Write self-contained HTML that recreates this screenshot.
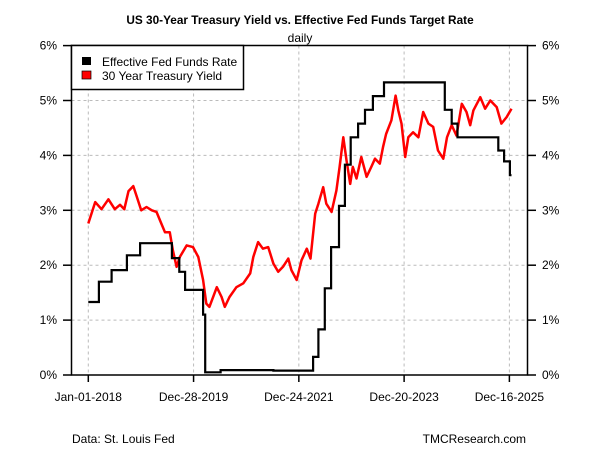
<!DOCTYPE html>
<html><head><meta charset="utf-8"><style>
body{margin:0;background:#fff;}
svg text{font-family:"Liberation Sans",Arial,sans-serif;fill:#000;}
</style></head><body>
<svg width="600" height="450" xmlns="http://www.w3.org/2000/svg">
<rect width="600" height="450" fill="#fff"/>
<g id="grid"></g>
<g id="series"></g>
<rect x="71.5" y="45.5" width="456" height="329.5" fill="none" stroke="#000" stroke-width="1.5"/>
<g id="axes"></g>
<text x="300" y="24" text-anchor="middle" font-size="11.8" font-weight="bold">US 30-Year Treasury Yield vs. Effective Fed Funds Target Rate</text>
<text x="300" y="42" text-anchor="middle" font-size="12">daily</text>
<g>
<rect x="71.5" y="45.5" width="172" height="44" fill="#fff" stroke="#000" stroke-width="1.5"/>
<rect x="82" y="57" width="9" height="8" fill="#000"/>
<text x="102" y="66" font-size="12">Effective Fed Funds Rate</text>
<rect x="82" y="71" width="9" height="8" fill="#f00" stroke="#000" stroke-width="0.7"/>
<text x="102" y="80" font-size="12">30 Year Treasury Yield</text>
</g>
<text x="72" y="443" font-size="12">Data: St. Louis Fed</text>
<text x="526" y="443" text-anchor="end" font-size="12">TMCResearch.com</text>
</svg>
<script>
const yTicks=[0,1,2,3,4,5,6];
const xTickYears=[2018.0,2019.99,2021.98,2023.97,2025.96];
const xTickLabels=["Jan-01-2018","Dec-28-2019","Dec-24-2021","Dec-20-2023","Dec-16-2025"];
const tsyT=[2018.0,2018.13,2018.25,2018.38,2018.5,2018.6,2018.68,2018.76,2018.85,2018.91,2019.0,2019.1,2019.2,2019.29,2019.38,2019.45,2019.54,2019.6,2019.67,2019.73,2019.86,2019.98,2020.08,2020.17,2020.23,2020.29,2020.43,2020.52,2020.58,2020.67,2020.8,2020.93,2021.06,2021.12,2021.21,2021.3,2021.4,2021.5,2021.59,2021.68,2021.78,2021.84,2021.94,2022.03,2022.13,2022.2,2022.29,2022.35,2022.44,2022.5,2022.6,2022.69,2022.75,2022.82,2022.88,2022.95,2023.0,2023.07,2023.16,2023.26,2023.35,2023.42,2023.51,2023.57,2023.63,2023.73,2023.81,2023.86,2023.92,2023.99,2024.05,2024.14,2024.24,2024.33,2024.43,2024.52,2024.61,2024.71,2024.78,2024.87,2024.96,2025.06,2025.15,2025.22,2025.28,2025.41,2025.5,2025.6,2025.72,2025.81,2025.91,2026.0];
const tsyV=[2.76,3.15,3.02,3.2,3.02,3.1,3.02,3.35,3.44,3.27,3.0,3.06,3.0,2.97,2.76,2.6,2.6,2.27,1.97,2.15,2.36,2.33,2.15,1.73,1.3,1.24,1.6,1.42,1.24,1.42,1.6,1.67,1.85,2.15,2.42,2.3,2.33,2.03,1.88,1.97,2.12,1.91,1.73,2.09,2.3,2.12,2.94,3.12,3.42,3.12,2.97,3.36,3.79,4.33,3.91,3.48,3.79,3.58,3.97,3.61,3.79,3.94,3.85,4.15,4.39,4.64,5.09,4.82,4.58,3.97,4.33,4.42,4.33,4.79,4.58,4.52,4.09,3.94,4.33,4.55,4.36,4.94,4.79,4.55,4.82,5.06,4.85,5.0,4.88,4.58,4.7,4.85];
const fedT=[2018.0,2018.2,2018.44,2018.73,2018.98,2019.58,2019.72,2019.83,2020.17,2020.21,2020.5,2021.5,2022.25,2022.35,2022.47,2022.59,2022.74,2022.85,2022.96,2023.1,2023.23,2023.38,2023.59,2024.74,2024.87,2024.98,2025.75,2025.86,2025.97,2026.0];
const fedV=[1.33,1.7,1.91,2.18,2.4,2.13,1.88,1.55,1.1,0.05,0.09,0.08,0.33,0.83,1.58,2.33,3.08,3.83,4.33,4.58,4.83,5.08,5.33,4.83,4.58,4.33,4.09,3.89,3.64,3.64];
const NS="http://www.w3.org/2000/svg";
function xs(t){return 88.3+(t-2018)*52.9;}
function ys(v){return 375-v*54.9;}
function mk(tag,attrs,parent){const e=document.createElementNS(NS,tag);for(const k in attrs)e.setAttribute(k,attrs[k]);parent.appendChild(e);return e;}
const grid=document.getElementById('grid'),axes=document.getElementById('axes'),series=document.getElementById('series');
yTicks.forEach(v=>{const y=ys(v);
 if(v>0&&v<6){const g=mk('line',{x1:71.5,x2:527.5,y1:y,y2:y,stroke:'#bbb','stroke-dasharray':'3,3'},grid);
 
 }
 const t1=mk('line',{x1:63,x2:71.5,y1:y,y2:y,stroke:'#000','stroke-width':1.5},axes);
 
 
 const t2=mk('line',{x1:527.5,x2:536,y1:y,y2:y,stroke:'#000','stroke-width':1.5},axes);
 
 
 const l1=mk('text',{x:57,y:y+4,'text-anchor':'end','font-size':12},axes);l1.textContent=v+'%';
 
 
 const l2=mk('text',{x:542,y:y+4,'font-size':12},axes);l2.textContent=v+'%';
 
 
});
xTickYears.forEach((t,i)=>{const x=xs(t);
 const g=mk('line',{x1:x,x2:x,y1:45.5,y2:375,stroke:'#bbb','stroke-dasharray':'3,3'},grid);
 
 
 const tk=mk('line',{x1:x,x2:x,y1:375,y2:382,stroke:'#000','stroke-width':1.5},axes);
 
 
 const l=mk('text',{x:x,y:401,'text-anchor':'middle','font-size':12},axes);l.textContent=xTickLabels[i];
 
 
});
let dT=tsyT.map((t,i)=>(i?'L':'M')+xs(t).toFixed(1)+','+ys(tsyV[i]).toFixed(1)).join(' ');
const pT=mk('path',{d:dT,fill:'none',stroke:'#f00','stroke-width':2.5,'stroke-linejoin':'round'},series);


let dF='M'+xs(fedT[0])+','+ys(fedV[0]);
for(let i=1;i<fedT.length;i++){dF+=' L'+xs(fedT[i]).toFixed(1)+','+ys(fedV[i-1]).toFixed(1)+' L'+xs(fedT[i]).toFixed(1)+','+ys(fedV[i]).toFixed(1);}
const pF=mk('path',{d:dF,fill:'none',stroke:'#000','stroke-width':2.2},series);


</script>
</body></html>
